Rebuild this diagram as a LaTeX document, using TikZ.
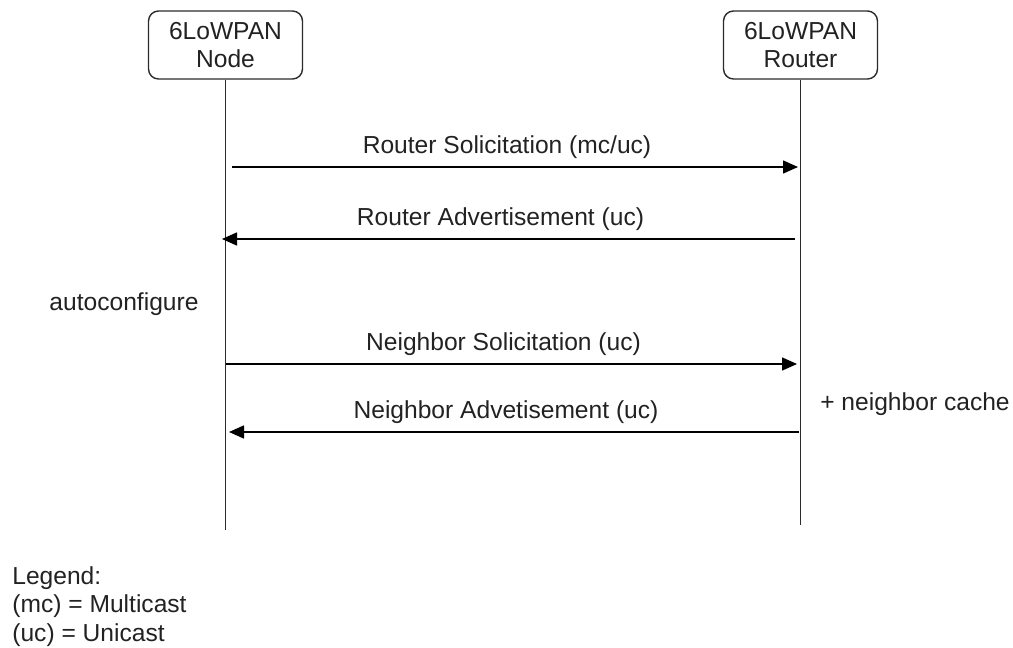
\documentclass[tikz,border=0pt]{standalone}
\usepackage{fontspec}
\setmainfont{Liberation Sans}
\usetikzlibrary{arrows.meta,positioning}
\definecolor{SeqLine}{HTML}{2B2B2B}
\definecolor{SeqText}{HTML}{222222}

\begin{document}
\begin{tikzpicture}[x=0.02cm,y=-0.02cm,
    font=\fontsize{14}{16.3}\selectfont,text=SeqText,
    actor/.style={draw=SeqLine,rounded corners=2mm,line width=0.8pt,minimum width=3.08cm,minimum height=1.36cm,align=center,inner sep=0pt},
    lifeline/.style={draw=SeqLine,line width=0.7pt},
    msg/.style={-{Triangle[length=3mm,width=2.6mm]},draw=black,line width=0.9pt},
    msglabel/.style={anchor=base,inner sep=0pt,yshift=2.8mm,xshift=-1.6mm},
    note/.style={anchor=base,inner sep=0pt}
  ]
  \useasboundingbox (0,0) rectangle (1013,648);

  % participants
  \node[actor] (node) at (225.5,45) {6LoWPAN\\Node};
  \node[actor] (router) at (800.5,45) {6LoWPAN\\Router};
  \coordinate (nodeend) at (225.5,530);
  \coordinate (routerend) at (800.5,525);
  \draw[lifeline] (node) -- (nodeend);
  \draw[lifeline] (router) -- (routerend);

  % message end points
  \coordinate (rs1) at (232,167);  \coordinate (rs2) at (798,167);
  \coordinate (ra1) at (795,239);  \coordinate (ra2) at (222,239);
  \coordinate (ns1) at (226,364);  \coordinate (ns2) at (797,364);
  \coordinate (na1) at (799,432);  \coordinate (na2) at (229,432);

  \draw[msg] (rs1) -- node[msglabel] {Router Solicitation (mc/uc)} (rs2);
  \draw[msg] (ra1) -- node[msglabel] {Router Advertisement (uc)} (ra2);
  \draw[msg] (ns1) -- node[msglabel] {Neighbor Solicitation (uc)} (ns2);
  \draw[msg] (na1) -- node[msglabel] {Neighbor Advetisement (uc)} (na2);

  % notes
  \node[note] (autoconf) at (124,310) {autoconfigure};
  \node[note] (ncache) at (915,410) {+ neighbor cache};

  \node[anchor=north west,inner sep=0pt,align=left] (legend) at (12,566)
    {Legend:\\(mc) = Multicast\\(uc) = Unicast};
\end{tikzpicture}
\end{document}
